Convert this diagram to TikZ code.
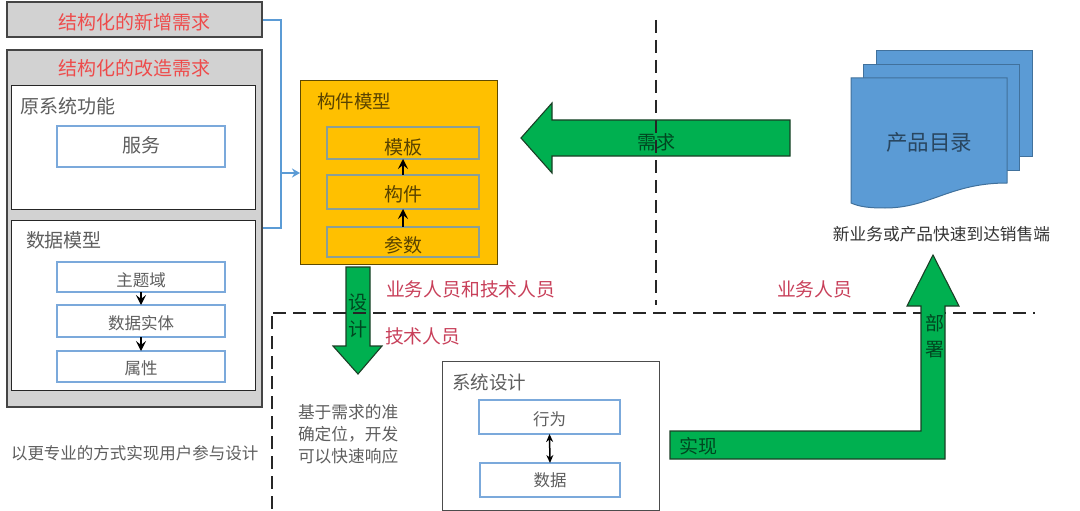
\documentclass[tikz,border=0pt]{standalone}
\usepackage{fontspec}
\setmainfont{Noto Sans CJK SC}
\usetikzlibrary{arrows.meta}
\definecolor{panelgray}{HTML}{D2D2D2}
\definecolor{darkline}{HTML}{454545}
\definecolor{lightblue}{HTML}{7BA9DB}
\definecolor{docblue}{HTML}{5B9BD5}
\definecolor{docline}{HTML}{41719C}
\definecolor{orangefill}{HTML}{FFC000}
\definecolor{orangeline}{HTML}{5F4A00}
\definecolor{innerline}{HTML}{8A9F96}
\definecolor{greenfill}{HTML}{00B050}
\definecolor{greenline}{HTML}{1B3F26}
\definecolor{redtext}{HTML}{EE4B4B}
\definecolor{crimson}{HTML}{C8405A}
\definecolor{greytext}{HTML}{5E5E5E}
\tikzset{
  x=1pt,y=-1pt,
  panel/.style={draw=darkline,fill=panelgray,line width=1.2pt,inner sep=0,outer sep=0},
  whitebox/.style={draw=black!85,fill=white,line width=1pt,inner sep=0,outer sep=0},
  bluebox/.style={draw=lightblue,fill=white,line width=1.1pt,inner sep=0,outer sep=0},
  orangebox/.style={draw=orangeline,fill=orangefill,line width=1pt,inner sep=0,outer sep=0},
  innerbox/.style={draw=innerline,line width=1.1pt,inner sep=0,outer sep=0},
  lbl/.style={inner sep=0,outer sep=0,text=greytext,font=\fontsize{#1}{#1}\selectfont},
  lbl/.default=19,
  redlbl/.style={inner sep=0,outer sep=0,text=redtext,font=\fontsize{19}{19}\selectfont},
  crimsonlbl/.style={inner sep=0,outer sep=0,text=crimson,font=\fontsize{18.8}{18.8}\selectfont},
  darklbl/.style={inner sep=0,outer sep=0,text=black!65!orangefill,font=\fontsize{#1}{#1}\selectfont},
  darklbl/.default=19,
  greenlbl/.style={inner sep=0,outer sep=0,text=black!60!greenfill,font=\fontsize{19}{19}\selectfont},
  greenarrow/.style={draw=greenline,fill=greenfill,line width=1.1pt,line join=miter},
  docsheet/.style={draw=docline,fill=docblue,line width=1pt},
  dashline/.style={draw=black!85,line width=1.6pt,dash pattern=on 13pt off 7pt},
  busline/.style={draw=docblue,line width=2.3pt},
  smallarrow/.style={draw=black,line width=1.5pt,-{Stealth[length=10pt,width=10pt,inset=4pt]}},
  bothsmall/.style={draw=black,line width=1.5pt,{Stealth[length=8pt,width=7pt]}-{Stealth[length=8pt,width=7pt]}},
}
\begin{document}
\begin{tikzpicture}
\useasboundingbox (0,0) rectangle (1080,511);
% left panels
\node[panel,minimum width=255pt,minimum height=35pt] (newbox) at (134.5,19.5) {};
\node[redlbl] (newtxt) at (134.5,22) {结构化的新增需求};
\node[panel,minimum width=255pt,minimum height=357pt] (modbox) at (134.5,228.5) {};
\node[redlbl] (modtxt) at (134.5,68.5) {结构化的改造需求};
\node[whitebox,minimum width=244pt,minimum height=123pt] (orig) at (133,147.5) {};
\node[lbl,anchor=west] (origtxt) at (20,106.5) {原系统功能};
\node[bluebox,minimum width=168pt,minimum height=41pt] (svc) at (141,146.5) {};
\node[lbl] (svctxt) at (141,145.5) {服务};
\node[whitebox,minimum width=244pt,minimum height=170pt] (dm) at (133,305) {};
\node[lbl,anchor=west] (dmtxt) at (26,240.5) {数据模型};
\node[bluebox,minimum width=168pt,minimum height=30pt] (topic) at (141,277) {};
\node[lbl=16.5] (topictxt) at (141,280.5) {主题域};
\node[bluebox,minimum width=168pt,minimum height=32pt] (entity) at (141,321) {};
\node[lbl=16.5] (entitytxt) at (141,323) {数据实体};
\node[bluebox,minimum width=168pt,minimum height=31pt] (attr) at (141,366.5) {};
\node[lbl=16.5] (attrtxt) at (141,368.5) {属性};
\draw[smallarrow] (topic.south) -- (entity.north);
\draw[smallarrow] (entity.south) -- (attr.north);
\node[lbl=16.5,anchor=west] (usertxt) at (11,453.5) {以更专业的方式实现用户参与设计};
% component model
\node[orangebox,minimum width=197pt,minimum height=183pt] (model) at (398.5,172.5) {};
\node[darklbl=18.5,anchor=west] (modeltxt) at (317,101.5) {构件模型};
\node[innerbox,minimum width=152pt,minimum height=32pt] (tpl) at (403,143) {};
\node[darklbl] (tpltxt) at (403,147) {模板};
\node[innerbox,minimum width=152pt,minimum height=34pt] (comp) at (403,192) {};
\node[darklbl] (comptxt) at (403,194.5) {构件};
\node[innerbox,minimum width=152pt,minimum height=30pt] (par) at (403,242) {};
\node[darklbl] (partxt) at (403,245.5) {参数};
\draw[smallarrow] (comp.north) -- (tpl.south);
\draw[smallarrow] (par.north) -- (comp.south);
% blue connector
\coordinate (busT) at (281,20);
\coordinate (busM) at (281,173);
\coordinate (busB) at (281,228);
\coordinate (busTL) at (263,20);
\coordinate (busBL) at (263,228);
\draw[busline] (busTL) -- (busT) -- (busB) -- (busBL);
\draw[busline,-{Stealth[length=8pt,width=9pt]}] (busM) -- (model.west |- busM);
% green arrow: demand
\draw[greenarrow] (790,120) -- (552,120) -- (552,103) -- (521,138) -- (552,173) -- (552,156) -- (790,156) -- cycle;
\node[greenlbl] (demand) at (656,142) {需求};
% green arrow: design
\draw[greenarrow] (346,267) -- (370,267) -- (370,346) -- (382,346) -- (358,374) -- (333,346) -- (346,346) -- cycle;
% dashed separators
\coordinate (vA) at (656,20);
\coordinate (vB) at (656,305);
\coordinate (hA) at (273,313);
\coordinate (hB) at (1035,313);
\coordinate (lA) at (272,316);
\coordinate (lB) at (272,511);
\draw[dashline] (vA) -- (vB);
\draw[dashline] (hA) -- (hB);
\draw[dashline] (lA) -- (lB);
\node[greenlbl] (desA) at (358,302) {设};
\node[greenlbl] (desB) at (358,329) {计};
% role labels
\node[crimsonlbl,anchor=west] (both) at (386,289.5) {业务人员和技术人员};
\node[crimsonlbl,anchor=west] (tech) at (385,336.5) {技术人员};
\node[crimsonlbl,anchor=west] (biz) at (777,289.5) {业务人员};
% note
\node[lbl=16.7,anchor=west] (noteA) at (298,412.5) {基于需求的准};
\node[lbl=16.7,anchor=west] (noteB) at (298,434.5) {确定位，开发};
\node[lbl=16.7,anchor=west] (noteC) at (298,456.5) {可以快速响应};
% system design
\node[whitebox,draw=black!70,minimum width=217pt,minimum height=149pt] (sys) at (550.5,435.5) {};
\node[lbl=18.5,anchor=west] (systxt) at (452,382.5) {系统设计};
\node[bluebox,minimum width=141pt,minimum height=34pt] (beh) at (549.5,417) {};
\node[lbl=16.5] (behtxt) at (549.5,419) {行为};
\node[bluebox,minimum width=140pt,minimum height=34pt] (dat) at (550,480) {};
\node[lbl=16.5] (dattxt) at (550,480.5) {数据};
\draw[bothsmall] (beh.south) -- (dat.north);
% bent arrow
\draw[greenarrow] (670,431) -- (921,431) -- (921,306) -- (907,306) -- (933,255) -- (959,306) -- (945,306) -- (945,459) -- (670,459) -- cycle;
\node[greenlbl] (impl) at (698,446) {实现};
\node[greenlbl] (depA) at (935,323) {部};
\node[greenlbl] (depB) at (935,350) {署};
% document stack
\draw[docsheet] (876,51) -- (1032,51) -- (1032,156) -- (876,156) -- cycle;
\draw[docsheet] (863,65) -- (1019,65) -- (1019,170) -- (863,170) -- cycle;
\draw[docsheet] (851,78) -- (1007,78) -- (1007,183) .. controls (950,183) and (930,208) .. (885,208) .. controls (870,208) and (860,207) .. (851,203) -- cycle;
\node[inner sep=0,outer sep=0,text=black!55!docblue,font=\fontsize{21.5}{21.5}\selectfont] (catalog) at (929,142) {产品目录};
\node[inner sep=0,outer sep=0,text=black!80,font=\fontsize{16.7}{16.7}\selectfont] (fast) at (941.5,234.5) {新业务或产品快速到达销售端};
\end{tikzpicture}
\end{document}
